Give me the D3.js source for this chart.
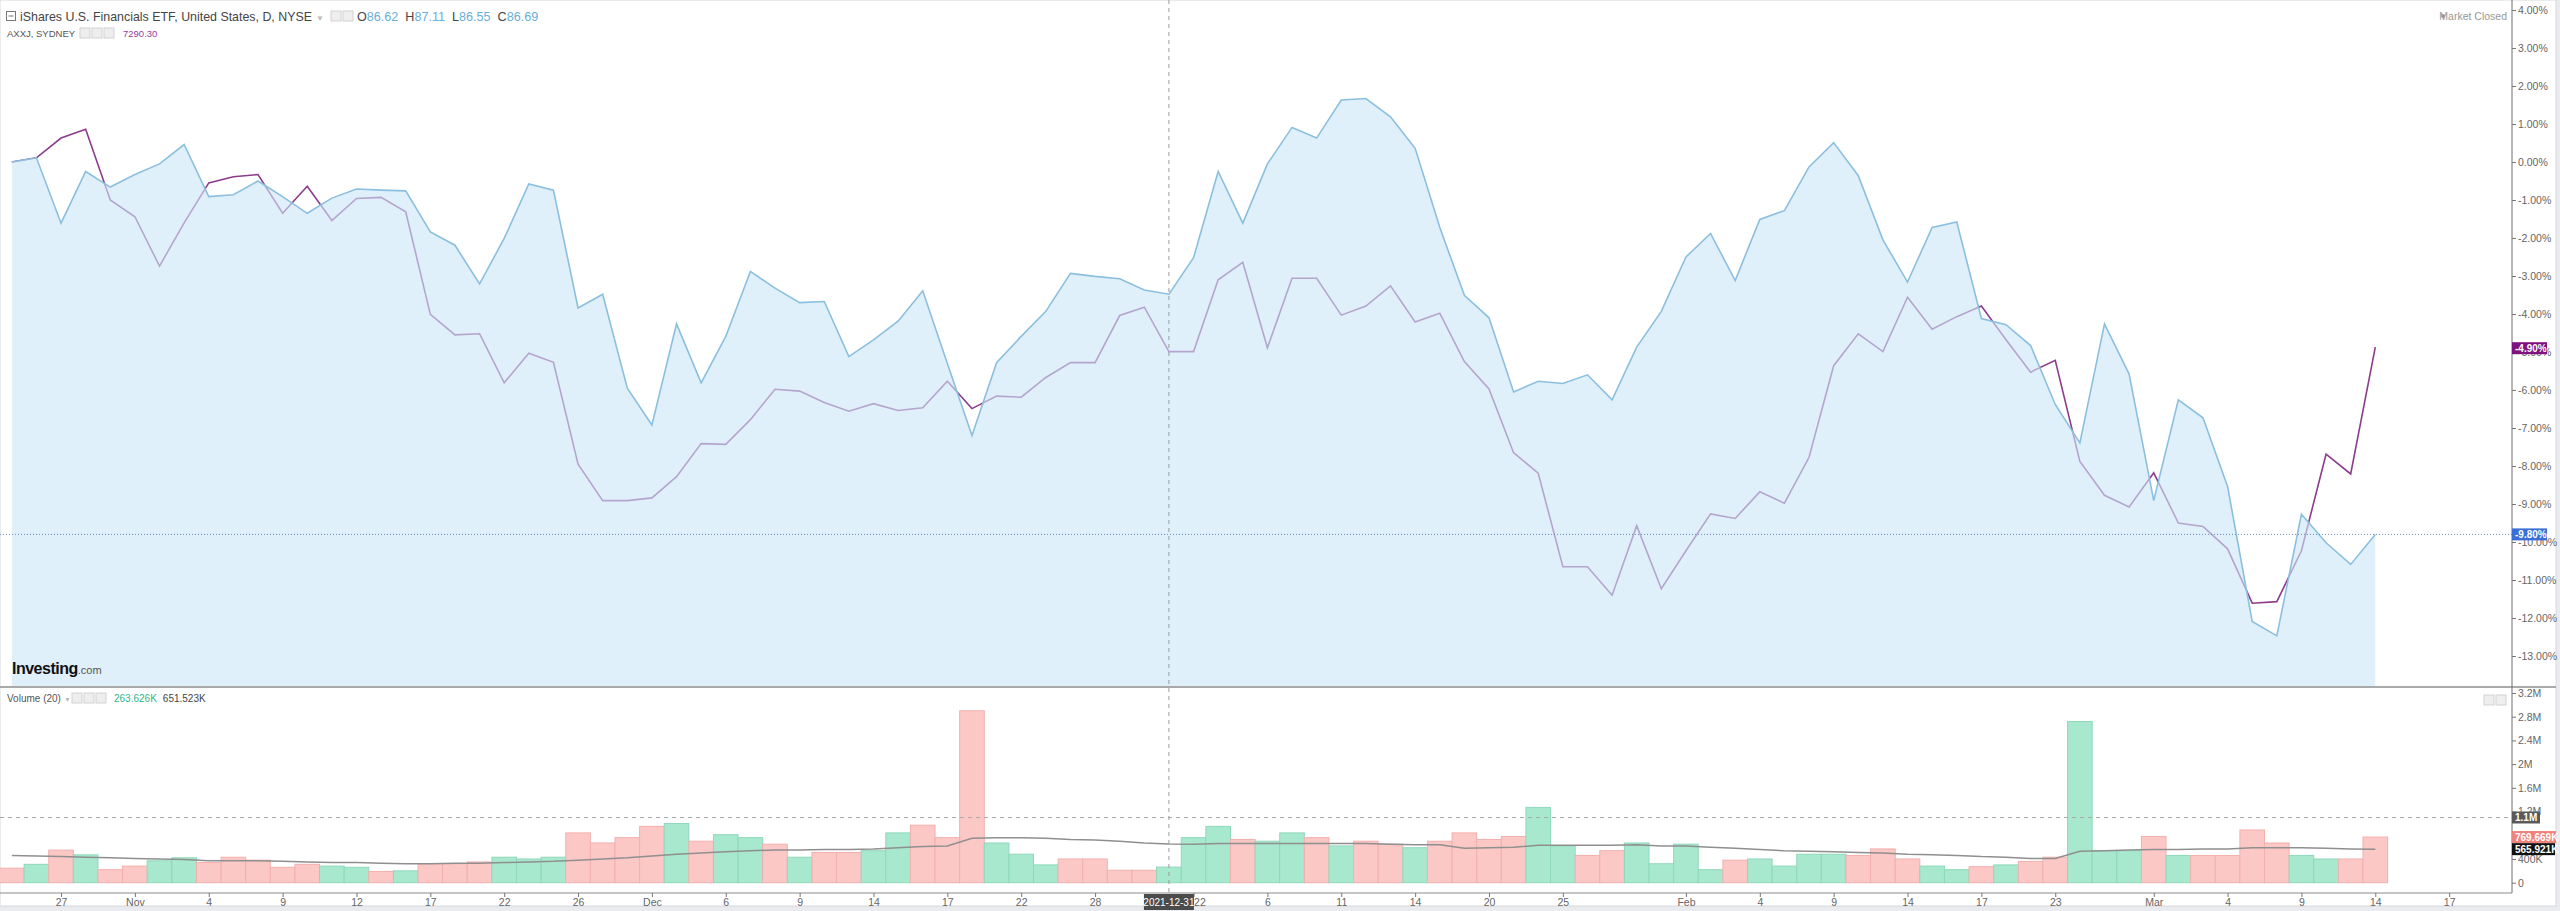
<!DOCTYPE html>
<html>
<head>
<meta charset="utf-8">
<script src="https://cdn.jsdelivr.net/npm/d3@7"></script>
<style>
  body { margin: 0; background: #e9ebef; }
  svg text { font-family: "Liberation Sans", Arial, sans-serif; }
</style>
</head>
<body>
<script>
// % change from first bar
const iyf = [0.00, 0.11, -1.61, -0.25, -0.66, -0.33, -0.05, 0.46, -0.91, -0.86,
  -0.50, -0.91, -1.35, -0.95, -0.71, -0.74, -0.76, -1.84, -2.19, -3.21,
  -2.01, -0.58, -0.74, -3.84, -3.48, -5.95, -6.92, -4.26, -5.81, -4.59,
  -2.88, -3.32, -3.70, -3.67, -5.12, -4.68, -4.19, -3.39, -5.30, -7.20,
  -5.28, -4.59, -3.93, -2.93, -3.01, -3.07, -3.37, -3.48, -2.52, -0.25,
  -1.61, -0.05, 0.91, 0.63, 1.63, 1.67, 1.19, 0.36, -1.72, -3.51,
  -4.10, -6.05, -5.77, -5.83, -5.60, -6.26, -4.87, -3.93, -2.50, -1.88,
  -3.12, -1.51, -1.28, -0.13, 0.51, -0.36, -2.05, -3.16, -1.72, -1.58,
  -4.12, -4.28, -4.83, -6.38, -7.39, -4.26, -5.58, -8.91, -6.26, -6.73,
  -8.54, -12.09, -12.47, -9.27, -10.02, -10.59, -9.80];

const axxj = [0.00, 0.11, 0.63, 0.86, -1.00, -1.44, -2.74, -1.60, -0.55, -0.39,
  -0.33, -1.35, -0.64, -1.54, -0.96, -0.93, -1.31, -4.01, -4.55, -4.52,
  -5.81, -5.03, -5.27, -7.95, -8.91, -8.91, -8.84, -8.28, -7.41, -7.43,
  -6.78, -5.98, -6.03, -6.33, -6.56, -6.36, -6.54, -6.47, -5.77, -6.49,
  -6.16, -6.19, -5.67, -5.28, -5.28, -4.04, -3.82, -4.99, -4.99, -3.10,
  -2.64, -4.89, -3.06, -3.06, -4.03, -3.79, -3.26, -4.21, -3.98, -5.25,
  -5.97, -7.65, -8.19, -10.65, -10.65, -11.40, -9.57, -11.23, -10.23, -9.26,
  -9.38, -8.68, -8.98, -7.77, -5.36, -4.52, -4.99, -3.56, -4.40, -4.07,
  -3.79, -4.68, -5.53, -5.22, -7.88, -8.77, -9.08, -8.18, -9.50, -9.59,
  -10.18, -11.61, -11.57, -10.23, -7.69, -8.21, -4.87];

// volume in millions, 1 = up bar (green), 0 = down bar (red)
const volume = [0.245, 0.31, 0.55, 0.47, 0.22, 0.28, 0.37, 0.42, 0.34, 0.43,
  0.38, 0.26, 0.31, 0.28, 0.26, 0.19, 0.20, 0.32, 0.32, 0.35,
  0.43, 0.40, 0.43, 0.84, 0.67, 0.76, 0.95, 1.00, 0.70, 0.81,
  0.76, 0.65, 0.43, 0.51, 0.51, 0.54, 0.84, 0.97, 0.76, 2.90,
  0.67, 0.48, 0.30, 0.40, 0.40, 0.21, 0.21, 0.2636, 0.76, 0.95,
  0.73, 0.70, 0.84, 0.76, 0.62, 0.70, 0.65, 0.59, 0.70, 0.84,
  0.73, 0.78, 1.27, 0.62, 0.46, 0.54, 0.67, 0.32, 0.65, 0.22,
  0.38, 0.40, 0.28, 0.48, 0.48, 0.46, 0.57, 0.40, 0.28, 0.22,
  0.27, 0.30, 0.36, 0.43, 2.72, 0.54, 0.54, 0.78, 0.46, 0.46,
  0.46, 0.89, 0.67, 0.46, 0.40, 0.40, 0.77];
const volUp = [0,1,0,1,0,0,1,1,0,0, 0,0,0,1,1,0,1,0,0,0,
  1,1,1,0,0,0,0,1,0,1, 1,0,1,0,0,1,1,0,0,0,
  1,1,1,0,0,0,0,1,1,1, 0,1,1,0,1,0,0,1,0,0,
  0,0,1,1,0,0,1,1,1,1, 0,1,1,1,1,0,0,0,1,1,
  0,1,0,0,1,1,1,0,1,0, 0,0,0,1,1,0,0];
const volMA = [0.46, 0.45, 0.44, 0.43, 0.42, 0.41, 0.40, 0.39, 0.37, 0.37,
  0.37, 0.36, 0.35, 0.34, 0.34, 0.33, 0.32, 0.32, 0.33, 0.33,
  0.34, 0.35, 0.36, 0.38, 0.40, 0.42, 0.45, 0.48, 0.50, 0.52,
  0.54, 0.55, 0.55, 0.56, 0.56, 0.57, 0.59, 0.61, 0.62, 0.75,
  0.76, 0.76, 0.75, 0.73, 0.72, 0.70, 0.67, 0.6515, 0.65, 0.66,
  0.66, 0.66, 0.66, 0.66, 0.66, 0.66, 0.65, 0.64, 0.64, 0.58,
  0.59, 0.60, 0.63, 0.63, 0.63, 0.63, 0.64, 0.62, 0.62, 0.60,
  0.58, 0.56, 0.54, 0.53, 0.52, 0.51, 0.50, 0.48, 0.47, 0.46,
  0.44, 0.43, 0.41, 0.41, 0.53, 0.54, 0.55, 0.56, 0.56, 0.57,
  0.57, 0.59, 0.59, 0.59, 0.58, 0.57, 0.566];

// bar index -> date label on the time axis
const xTickIdx = [2, 5, 8, 11, 14, 17, 20, 23, 26, 29, 32, 35, 38, 41, 44, 48,
  51, 54, 57, 60, 63, 68, 71, 74, 77, 80, 83, 87, 90, 93, 96, 99];
const xTickText = ["27", "Nov", "4", "9", "12", "17", "22", "26", "Dec", "6", "9", "14", "17", "22", "28", "2022",
  "6", "11", "14", "20", "25", "Feb", "4", "9", "14", "17", "23", "Mar", "4", "9", "14", "17"];
const pctTicks = [4, 3, 2, 1, 0, -1, -2, -3, -4, -5, -6, -7, -8, -9, -10, -11, -12, -13];
const volTicks = [0, 0.4, 0.8, 1.2, 1.6, 2, 2.4, 2.8, 3.2];
const volTickText = ["0", "400K", "800K", "1.2M", "1.6M", "2M", "2.4M", "2.8M", "3.2M"];

const W = 2560, H = 911;
const axisX = 2512, mainBottom = 687, volBottom = 893, frameR = 2556, frameB = 906;

const svg = d3.select("body").append("svg")
  .attr("width", W).attr("height", H);

svg.append("rect").attr("x", 0).attr("y", 0).attr("width", frameR).attr("height", frameB)
  .attr("fill", "#fff").attr("stroke", "#d6d8dc");

const x = d3.scaleLinear().domain([0, 96]).range([11.8, 2375.3]);
const y = d3.scaleLinear().domain([4, -13]).range([10, 656]);
const yv = d3.scaleLinear().domain([0, 3.2]).range([882.7, 693]);
const bw = x(1) - x(0);

// AXXJ line first, the blue area goes over it
svg.append("path")
  .attr("d", d3.line().x((d, i) => x(i)).y(d => y(d))(axxj))
  .attr("fill", "none").attr("stroke", "#8c3c8c").attr("stroke-width", 1.6);

svg.append("path")
  .attr("d", d3.area().x((d, i) => x(i)).y0(mainBottom).y1(d => y(d))(iyf))
  .attr("fill", "rgba(205,231,247,0.62)");

svg.append("path")
  .attr("d", d3.line().x((d, i) => x(i)).y(d => y(d))(iyf))
  .attr("fill", "none").attr("stroke", "#8bbfdf").attr("stroke-width", 1.6);

// last value line
svg.append("line").attr("x1", 0).attr("x2", axisX).attr("y1", y(-9.8)).attr("y2", y(-9.8))
  .attr("stroke", "#6a88c8").attr("stroke-dasharray", "1,2");

// volume
svg.selectAll("rect.vol")
  .data(volume)
  .enter()
  .append("rect")
  .attr("class", "vol")
  .attr("x", (d, i) => x(i) - bw / 2)
  .attr("y", d => yv(d))
  .attr("width", bw)
  .attr("height", d => yv(0) - yv(d))
  .attr("fill", (d, i) => volUp[i] ? "#a8e8cf" : "#fcc8c6")
  .attr("stroke", (d, i) => volUp[i] ? "#8fd8bb" : "#f2b0ae")
  .attr("stroke-width", 1);

svg.append("path")
  .attr("d", d3.line().x((d, i) => x(i)).y(d => yv(d))(volMA))
  .attr("fill", "none").attr("stroke", "#8f8f8f").attr("stroke-width", 1.5);

svg.append("line").attr("x1", 0).attr("x2", axisX).attr("y1", yv(1.1)).attr("y2", yv(1.1))
  .attr("stroke", "#a8a8a8").attr("stroke-dasharray", "4,4");

// crosshair
svg.append("line").attr("x1", x(47)).attr("x2", x(47)).attr("y1", 0).attr("y2", volBottom)
  .attr("stroke", "#9a9a9a").attr("stroke-dasharray", "4,4");

// pane separators
svg.append("line").attr("x1", 0).attr("x2", frameR).attr("y1", mainBottom).attr("y2", mainBottom)
  .attr("stroke", "#a9a9a9").attr("stroke-width", 2);
svg.append("line").attr("x1", 0).attr("x2", axisX).attr("y1", volBottom).attr("y2", volBottom)
  .attr("stroke", "#8a8a8a");
svg.append("line").attr("x1", axisX).attr("x2", axisX).attr("y1", 0).attr("y2", volBottom)
  .attr("stroke", "#6f6f6f");

// axes
function styleAxis(g) {
  g.select(".domain").remove();
  g.selectAll(".tick line").attr("stroke", "#777");
  g.selectAll(".tick text").attr("fill", "#666").style("font-size", "10.5px")
    .style("font-family", "'Liberation Sans', Arial, sans-serif");
}

svg.append("g")
  .attr("transform", `translate(${axisX},0)`)
  .call(d3.axisRight(y).tickValues(pctTicks).tickSize(4).tickPadding(2)
    .tickFormat(d => d.toFixed(2) + "%"))
  .call(styleAxis);

svg.append("g")
  .attr("transform", `translate(${axisX},0)`)
  .call(d3.axisRight(yv).tickValues(volTicks).tickSize(4).tickPadding(2)
    .tickFormat((d, i) => volTickText[i]))
  .call(styleAxis);

svg.append("g")
  .attr("transform", `translate(0,${volBottom})`)
  .call(d3.axisBottom(x).tickValues(xTickIdx).tickSize(4).tickPadding(2)
    .tickFormat((d, i) => xTickText[i]))
  .call(styleAxis);

// value tags on the right scale
function tag(yy, w, bg, txt) {
  svg.append("rect").attr("x", axisX).attr("y", yy - 6).attr("width", w).attr("height", 12)
    .attr("fill", bg);
  svg.append("text").attr("x", axisX + 3).attr("y", yy + 3.8).attr("fill", "#fff")
    .style("font-size", "10px").style("font-weight", "bold").text(txt);
}
tag(y(-4.9), 35, "#7e127e", "-4.90%");
tag(y(-9.8), 35, "#3a6fd8", "-9.80%");
tag(yv(1.1), 28, "#5a5a5a", "1.1M");
tag(yv(0.769669), 44, "#f0827c", "769.669K");
tag(yv(0.565921), 43, "#111", "565.921K");

// date tag of the crosshair
svg.append("rect").attr("x", x(47) - 25).attr("y", volBottom + 1).attr("width", 50).attr("height", 16)
  .attr("fill", "#4b4b4b");
svg.append("text").attr("x", x(47)).attr("y", volBottom + 12.5).attr("text-anchor", "middle")
  .attr("fill", "#fff").style("font-size", "10px").text("2021-12-31");

// legends
function icons(x0, yy, n) {
  for (let k = 0; k < n; k++) {
    svg.append("rect").attr("x", x0 + k * 12).attr("y", yy).attr("width", 10).attr("height", 10)
      .attr("fill", "#eeeeee").attr("stroke", "#d2d2d2");
  }
}

svg.append("rect").attr("x", 6.5).attr("y", 11.5).attr("width", 9).attr("height", 9)
  .attr("fill", "none").attr("stroke", "#777");
svg.append("line").attr("x1", 8.5).attr("x2", 13.5).attr("y1", 16).attr("y2", 16).attr("stroke", "#777");

const t1 = svg.append("text").attr("x", 20).attr("y", 21).style("font-size", "12.4px").attr("fill", "#444");
t1.append("tspan").text("iShares U.S. Financials ETF, United States, D, NYSE");
t1.append("tspan").attr("fill", "#bbb").attr("dx", 4).style("font-size", "8px").text("▼");
icons(331, 11, 2);
const t2 = svg.append("text").attr("x", 357).attr("y", 21).style("font-size", "12.6px");
[["O", "86.62"], ["H", "87.11"], ["L", "86.55"], ["C", "86.69"]].forEach((p, k) => {
  t2.append("tspan").attr("fill", "#444").attr("dx", k ? 7 : 0).text(p[0]);
  t2.append("tspan").attr("fill", "#6aaed6").text(p[1]);
});

const t3 = svg.append("text").attr("x", 7).attr("y", 37).style("font-size", "9.5px").attr("fill", "#555");
t3.append("tspan").text("AXXJ, SYDNEY");
t3.append("tspan").attr("fill", "#bbb").attr("dx", 3).style("font-size", "7px").text("▼");
icons(80, 28, 3);
svg.append("text").attr("x", 123).attr("y", 37).style("font-size", "9.5px").attr("fill", "#9b3c9b")
  .text("7290.30");

svg.append("circle").attr("cx", 2443).attr("cy", 16).attr("r", 2).attr("fill", "#999");
svg.append("text").attr("x", 2507).attr("y", 19.5).attr("text-anchor", "end")
  .style("font-size", "10.5px").attr("fill", "#999").text("Market Closed");

const t4 = svg.append("text").attr("x", 7).attr("y", 702).style("font-size", "10px").attr("fill", "#555");
t4.append("tspan").text("Volume (20)");
t4.append("tspan").attr("fill", "#bbb").attr("dx", 3).style("font-size", "7px").text("▼");
icons(72, 693, 3);
const t5 = svg.append("text").attr("x", 114).attr("y", 702).style("font-size", "10px");
t5.append("tspan").attr("fill", "#35b48a").text("263.626K");
t5.append("tspan").attr("fill", "#444").attr("dx", 6).text("651.523K");

icons(2484, 695, 2);

const logo = svg.append("text").attr("x", 12).attr("y", 674);
logo.append("tspan").style("font-size", "16px").style("font-weight", "bold").attr("fill", "#111")
  .style("letter-spacing", "-0.5px").text("Investing");
logo.append("tspan").style("font-size", "11px").attr("fill", "#555").text(".com");
</script>
</body>
</html>
